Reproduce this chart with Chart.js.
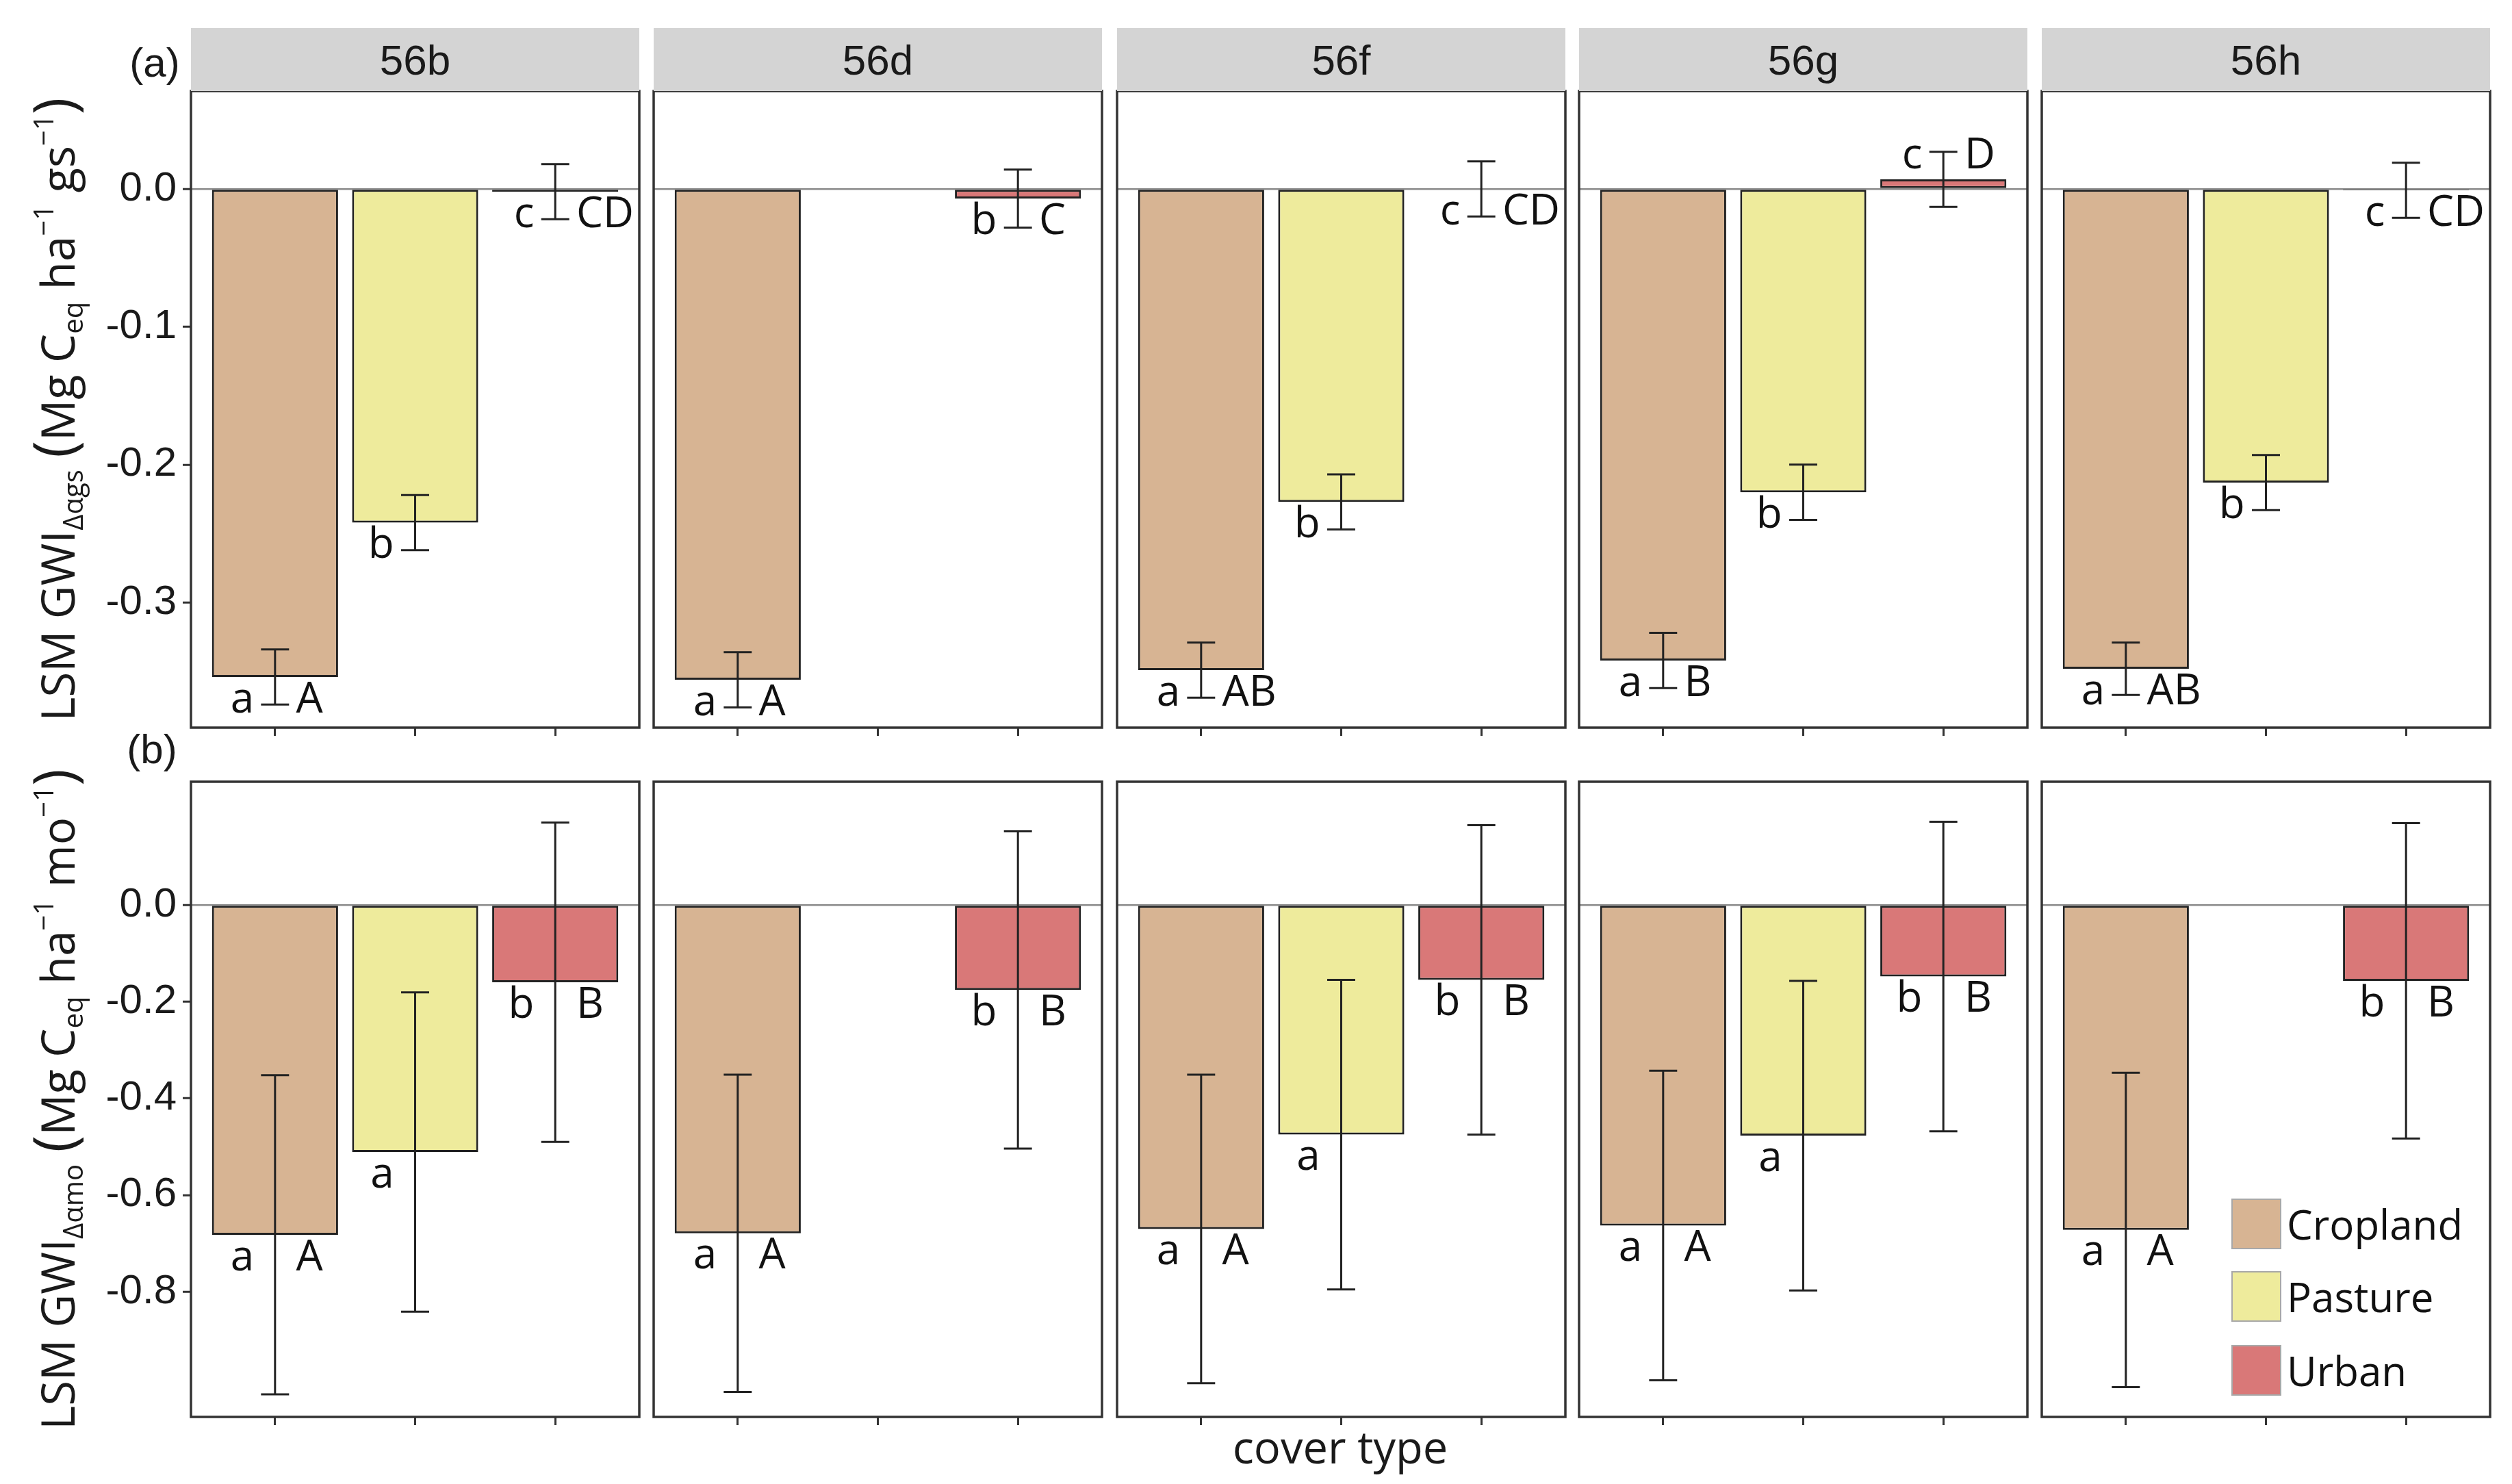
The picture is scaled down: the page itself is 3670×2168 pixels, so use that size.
<!DOCTYPE html>
<html>
<head>
<meta charset="utf-8">
<script src="https://cdn.jsdelivr.net/npm/chart.js@4.4.1/dist/chart.umd.min.js"></script>
<style>
  body { margin: 0; width: 3670px; height: 2168px; background: #fff; overflow: hidden; position: relative; }
  .strip { position: absolute; background: #d4d4d4; color: #1a1a1a; font: 62px "Liberation Sans", Arial, sans-serif;
           display: flex; align-items: center; justify-content: center; }
  .ytitle { position: absolute; white-space: nowrap; font: 67px "Open Sans", sans-serif; color: #1a1a1a;
            transform: translate(-50%, -50%) rotate(-90deg); }
  .ytitle sub { font-size: 0.6em; vertical-align: -0.3em; }
  .ytitle sup { font-size: 0.6em; vertical-align: 0.75em; }
  .ytitle .par { font-size: 1.25em; }
  .tag { position: absolute; font: 60px "Liberation Sans", Arial, sans-serif; color: #1a1a1a; transform: translate(-50%, -50%); white-space: nowrap; }
  .lkey { position: absolute; width: 73px; height: 74px; box-sizing: border-box; border: 2px solid #a8a8a8; }
  .ltxt { position: absolute; font: 60px "Open Sans", sans-serif; color: #111; transform: translateY(-50%); }
  canvas { position: absolute; }
</style>
</head>
<body>
<script>
// facets and cover types
const panelIds = ['56b', '56d', '56f', '56g', '56h'];
const coverTypes = ['Cropland', 'Pasture', 'Urban'];
const coverColors = ['#d7b493', '#eeeb9c', '#d97878'];

// tick labels
const gsTicks = [0, -0.1, -0.2, -0.3];
const moTicks = [0, -0.2, -0.4, -0.6, -0.8];

// (a) growing season GWI, one value per panel
const gsCropland = [-0.354, -0.356, -0.349, -0.342, -0.348];
const gsPasture = [-0.242, null, -0.227, -0.220, -0.213];
const gsUrban = [-0.002, -0.007, 0.0, 0.007, -0.001];
const gsCroplandErr = [0.020, 0.020, 0.020, 0.020, 0.019];
const gsPastureErr = [0.020, null, 0.020, 0.020, 0.020];
const gsUrbanErr = [0.020, 0.021, 0.020, 0.020, 0.020];

// (b) monthly GWI
const moCropland = [-0.682, -0.679, -0.670, -0.663, -0.672];
const moPasture = [-0.511, null, -0.475, -0.477, null];
const moUrban = [-0.160, -0.176, -0.155, -0.148, -0.157];
const moCroplandErr = [0.330, 0.328, 0.319, 0.320, 0.325];
const moPastureErr = [0.330, null, 0.320, 0.320, null];
const moUrbanErr = [0.330, 0.328, 0.320, 0.320, 0.326];

// significance letters: [cropland, pasture, urban] per panel
const gsLower = [['a', 'b', 'c'], ['a', '', 'b'], ['a', 'b', 'c'], ['a', 'b', 'c'], ['a', 'b', 'c']];
const gsUpper = [['A', '', 'CD'], ['A', '', 'C'], ['AB', '', 'CD'], ['B', '', 'D'], ['AB', '', 'CD']];
const moLower = [['a', 'a', 'b'], ['a', '', 'b'], ['a', 'a', 'b'], ['a', 'a', 'b'], ['a', '', 'b']];
const moUpper = [['A', '', 'B'], ['A', '', 'B'], ['A', '', 'B'], ['A', '', 'B'], ['A', '', 'B']];

// layout
const panelLefts = [279, 955, 1632, 2307, 2983];
const panelW = 655;
const stripTop = 41;
const rows = [
  { top: 133, bottom: 1063, min: -0.3907, max: 0.0710, ticks: gsTicks,
    vals: [gsCropland, gsPasture, gsUrban], errs: [gsCroplandErr, gsPastureErr, gsUrbanErr],
    lower: gsLower, upper: gsUpper },
  { top: 1142, bottom: 2070, min: -1.0586, max: 0.2547, ticks: moTicks,
    vals: [moCropland, moPasture, moUrban], errs: [moCroplandErr, moPastureErr, moUrbanErr],
    lower: moLower, upper: moUpper },
];

Chart.defaults.font.family = '"Liberation Sans", Arial, sans-serif';
Chart.defaults.color = '#1a1a1a';

const panelExtras = {
  id: 'panelExtras',
  afterDatasetsDraw(chart, args, opts) {
    const { ctx, chartArea } = chart;
    const xs = chart.scales.x, ys = chart.scales.y;
    ctx.save();
    ctx.beginPath();
    ctx.rect(chartArea.left, chartArea.top, chartArea.width, chartArea.height);
    ctx.clip();
    // error bars
    ctx.strokeStyle = '#222';
    ctx.lineWidth = 3;
    opts.vals.forEach((v, i) => {
      if (v === null) return;
      const e = opts.errs[i];
      const x = xs.getPixelForValue(i + 1);
      const x0 = xs.getPixelForValue(i + 0.9), x1 = xs.getPixelForValue(i + 1.1);
      const yHi = ys.getPixelForValue(v + e), yLo = ys.getPixelForValue(v - e);
      ctx.beginPath();
      ctx.moveTo(x, yHi); ctx.lineTo(x, yLo);
      ctx.moveTo(x0, yHi); ctx.lineTo(x1, yHi);
      ctx.moveTo(x0, yLo); ctx.lineTo(x1, yLo);
      ctx.stroke();
    });
    // letters
    ctx.fillStyle = '#111';
    ctx.font = '62px "Open Sans", sans-serif';
    ctx.textBaseline = 'middle';
    opts.vals.forEach((v, i) => {
      if (v === null) return;
      const y = ys.getPixelForValue(v) + (v > 0 ? -34 : 34);
      ctx.textAlign = 'right';
      ctx.fillText(opts.lower[i], xs.getPixelForValue(i + 0.85), y);
      ctx.textAlign = 'left';
      ctx.fillText(opts.upper[i], xs.getPixelForValue(i + 1.15), y);
    });
    ctx.restore();
  },
  afterDraw(chart) {
    const { ctx, chartArea } = chart;
    ctx.save();
    ctx.strokeStyle = '#333';
    ctx.lineWidth = 3.5;
    ctx.strokeRect(chartArea.left, chartArea.top, chartArea.width, chartArea.height);
    ctx.restore();
  }
};

const PADL = 150, PADT = 45, PADR = 10, PADB = 45;

rows.forEach((row, r) => {
  const ph = row.bottom - row.top;
  panelIds.forEach((id, p) => {
    const cv = document.createElement('canvas');
    const w = PADL + panelW + PADR, h = PADT + ph + PADB;
    cv.width = w; cv.height = h;
    cv.style.left = (panelLefts[p] - PADL) + 'px';
    cv.style.top = (row.top - PADT) + 'px';
    cv.style.width = w + 'px'; cv.style.height = h + 'px';
    document.body.appendChild(cv);

    const vals = row.vals.map(a => a[p]);
    const errs = row.errs.map(a => a[p]);
    const first = p === 0;

    new Chart(cv, {
      type: 'bar',
      data: {
        datasets: [{
          data: vals.map((v, i) => ({ x: i + 1, y: v })),
          backgroundColor: coverColors,
          borderColor: '#222',
          borderWidth: 3,
          borderSkipped: false,
          barPercentage: 0.9,
          categoryPercentage: 1.0,
        }]
      },
      options: {
        responsive: false,
        animation: false,
        devicePixelRatio: 1,
        layout: { padding: { left: 0, top: PADT, right: PADR, bottom: PADB - 30 } },
        plugins: {
          legend: { display: false },
          tooltip: { enabled: false },
          panelExtras: { vals, errs, lower: row.lower[p], upper: row.upper[p] },
        },
        scales: {
          x: {
            type: 'linear', min: 0.4, max: 3.6, offset: false,
            afterBuildTicks: s => { s.ticks = coverTypes.map((c, i) => ({ value: i + 1 })); },
            afterFit: s => { s.height = 30; },
            ticks: { display: false },
            grid: { offset: false, drawOnChartArea: false, drawTicks: true, tickLength: 12, tickColor: '#333', tickWidth: 3 },
            border: { display: false },
          },
          y: {
            min: row.min, max: row.max,
            afterBuildTicks: s => { s.ticks = row.ticks.map(v => ({ value: v })); },
            afterFit: s => { s.width = PADL; },
            ticks: {
              display: first, padding: 9,
              font: { size: 60 }, color: '#1a1a1a',
              callback: v => v.toFixed(1),
            },
            grid: {
              drawTicks: first, tickLength: 12, tickColor: '#333', tickWidth: 3,
              color: c => (c.tick && c.tick.value === 0 ? '#8a8a8a' : 'rgba(0,0,0,0)'),
              lineWidth: 2.5,
            },
            border: { display: false },
          },
        },
      },
      plugins: [panelExtras],
    });

    if (r === 0) {
      const s = document.createElement('div');
      s.className = 'strip';
      s.style.left = panelLefts[p] + 'px';
      s.style.top = stripTop + 'px';
      s.style.width = panelW + 'px';
      s.style.height = (row.top - stripTop) + 'px';
      s.textContent = id;
      document.body.appendChild(s);
    }
  });
});

// axis titles and tags
function addHtml(cls, html, left, top) {
  const d = document.createElement('div');
  d.className = cls;
  d.innerHTML = html;
  d.style.left = left + 'px';
  d.style.top = top + 'px';
  document.body.appendChild(d);
  return d;
}
addHtml('ytitle', 'LSM GWI<sub>Δαgs</sub> <span class="par">(</span>Mg C<sub>eq</sub> ha<sup>−1</sup> gs<sup>−1</sup><span class="par">)</span>', 76, 598);
addHtml('ytitle', 'LSM GWI<sub>Δαmo</sub> <span class="par">(</span>Mg C<sub>eq</sub> ha<sup>−1</sup> mo<sup>−1</sup><span class="par">)</span>', 76, 1606);
addHtml('tag', '(a)', 226, 91);
addHtml('tag', '(b)', 222, 1094);
const xt = addHtml('tag', 'cover type', 1958, 2113);
xt.style.font = '65px "Open Sans", sans-serif';

// legend
const keyTops = [1751, 1857, 1965];
coverTypes.forEach((c, i) => {
  const k = document.createElement('div');
  k.className = 'lkey';
  k.style.left = '3260px';
  k.style.top = keyTops[i] + 'px';
  k.style.background = coverColors[i];
  document.body.appendChild(k);
  addHtml('ltxt', c, 3341, keyTops[i] + 37);
});
</script>
</body>
</html>
